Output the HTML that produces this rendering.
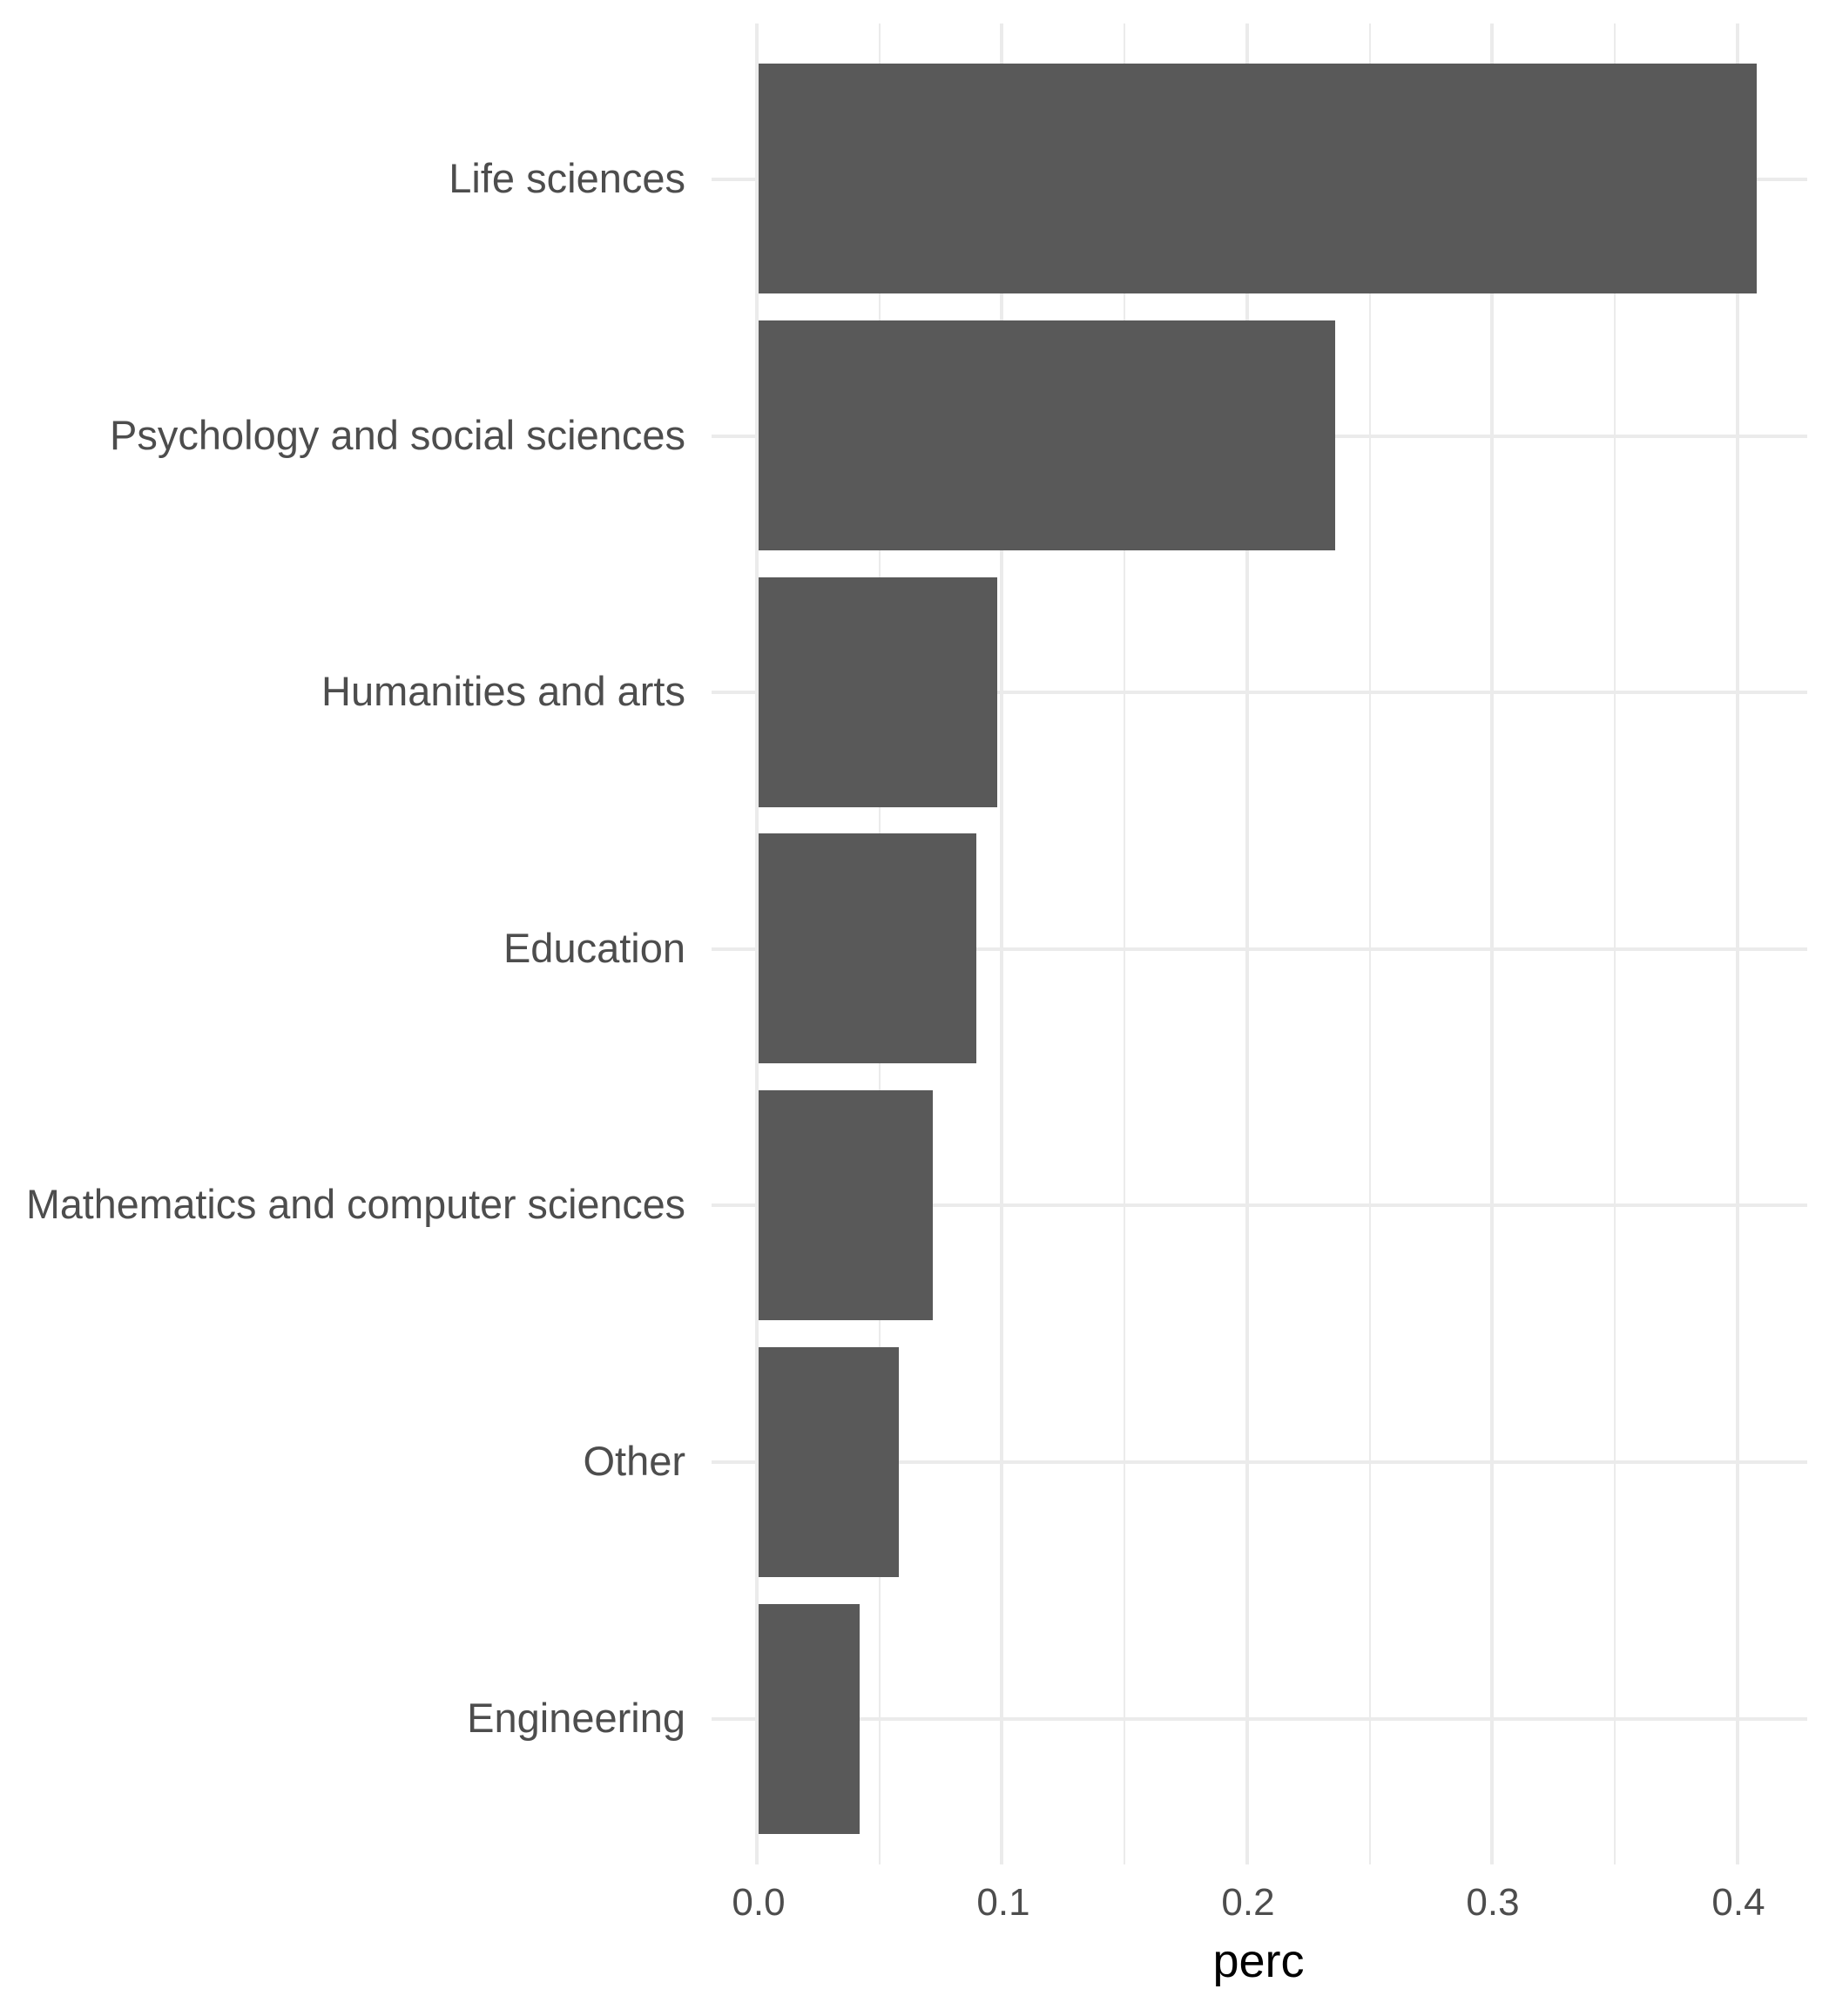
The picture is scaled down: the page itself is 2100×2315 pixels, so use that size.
<!DOCTYPE html>
<html><head><style>body{margin:0;background:#fff}</style></head><body>
<svg width="2100" height="2310" xmlns="http://www.w3.org/2000/svg" font-family="Liberation Sans, Arial, sans-serif">
<rect width="2100" height="2310" fill="#fff"/>
<g stroke="#ebebeb" stroke-width="2">
<line x1="1010" y1="27" x2="1010" y2="2141"/>
<line x1="1291" y1="27" x2="1291" y2="2141"/>
<line x1="1573" y1="27" x2="1573" y2="2141"/>
<line x1="1854" y1="27" x2="1854" y2="2141"/>
</g>
<g stroke="#ebebeb" stroke-width="4">
<line x1="869" y1="27" x2="869" y2="2141"/>
<line x1="1150" y1="27" x2="1150" y2="2141"/>
<line x1="1432" y1="27" x2="1432" y2="2141"/>
<line x1="1713" y1="27" x2="1713" y2="2141"/>
<line x1="1995" y1="27" x2="1995" y2="2141"/>
<line x1="817" y1="206" x2="2075" y2="206"/>
<line x1="817" y1="501" x2="2075" y2="501"/>
<line x1="817" y1="795" x2="2075" y2="795"/>
<line x1="817" y1="1090" x2="2075" y2="1090"/>
<line x1="817" y1="1384" x2="2075" y2="1384"/>
<line x1="817" y1="1679" x2="2075" y2="1679"/>
<line x1="817" y1="1974" x2="2075" y2="1974"/>
</g>
<g fill="#595959">
<rect x="871" y="73" width="1146" height="264"/>
<rect x="871" y="368" width="662" height="264"/>
<rect x="871" y="663" width="274" height="264"/>
<rect x="871" y="957" width="250" height="264"/>
<rect x="871" y="1252" width="200" height="264"/>
<rect x="871" y="1547" width="161" height="264"/>
<rect x="871" y="1842" width="116" height="264"/>
</g>
<g fill="#4d4d4d" font-size="47" text-anchor="end">
<text x="787" y="221">Life sciences</text>
<text x="787" y="516">Psychology and social sciences</text>
<text x="787" y="810">Humanities and arts</text>
<text x="787" y="1105">Education</text>
<text x="787" y="1399" textLength="757" lengthAdjust="spacingAndGlyphs">Mathematics and computer sciences</text>
<text x="787" y="1694">Other</text>
<text x="787" y="1989">Engineering</text>
</g>
<g fill="#4d4d4d" font-size="44" text-anchor="middle">
<text x="871" y="2199">0.0</text>
<text x="1152" y="2199">0.1</text>
<text x="1433" y="2199">0.2</text>
<text x="1714" y="2199">0.3</text>
<text x="1996" y="2199">0.4</text>
</g>
<text x="1445" y="2270" font-size="54" text-anchor="middle" fill="#000">perc</text>
</svg>
</body></html>
